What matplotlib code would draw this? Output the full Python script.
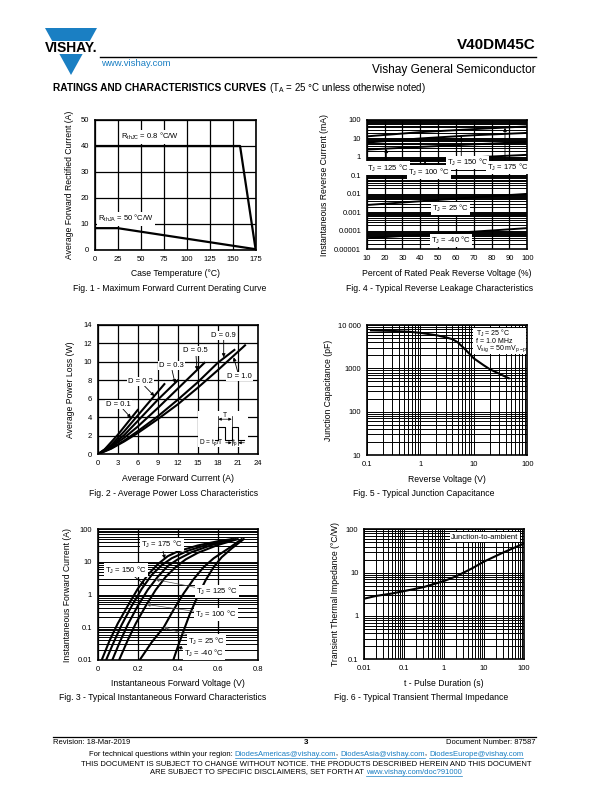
import numpy as np
import matplotlib
matplotlib.use('Agg')
import matplotlib.pyplot as plt
from matplotlib.ticker import LogLocator, NullFormatter, FixedLocator, FixedFormatter
from matplotlib.patches import Polygon, Rectangle

plt.rcParams['font.family'] = ['Liberation Sans', 'DejaVu Sans']
plt.rcParams['mathtext.default'] = 'regular'

# Fig. 1 - derating
temp_jc = [0, 158, 175]
amp_jc = [40, 40, 0]
temp_ja = [0, 25, 175]
amp_ja = [8.4, 8.4, 0.3]

# Fig. 2 - power loss, one curve per duty cycle
duty_names = ['0.1', '0.2', '0.3', '0.5', '0.9', '1.0']
loss_amp = [
    [0, 1, 2, 3, 4, 5, 6],
    [0, 2, 4, 6, 8, 10],
    [0, 2, 4, 6, 9, 12],
    [0, 2, 4, 6, 9, 12, 14, 16],
    [0, 2, 4, 6, 9, 12, 15, 18, 20.5],
    [0, 2, 4, 6, 9, 12, 15, 18, 22.1],
]
loss_watt = [
    [0, 0.5, 1.3, 2.1, 3.0, 3.9, 4.8],
    [0, 1.0, 2.5, 4.2, 5.9, 7.6],
    [0, 0.9, 2.1, 3.6, 5.9, 8.0],
    [0, 0.8, 1.8, 3.0, 5.0, 7.1, 8.5, 9.9],
    [0, 0.65, 1.5, 2.5, 4.1, 5.9, 7.8, 9.9, 11.3],
    [0, 0.6, 1.4, 2.3, 3.8, 5.4, 7.2, 9.1, 11.8],
]

# Fig. 3 - forward characteristics
tj_fwd = ['175', '150', '125', '100', '25', '-40']
vf = [
    [0.02, 0.06, 0.10, 0.15, 0.20, 0.25, 0.30, 0.35, 0.40, 0.50, 0.60, 0.67],
    [0.042, 0.08, 0.12, 0.17, 0.22, 0.27, 0.32, 0.37, 0.45, 0.55, 0.68],
    [0.073, 0.11, 0.15, 0.20, 0.25, 0.30, 0.35, 0.40, 0.47, 0.57, 0.69],
    [0.107, 0.15, 0.19, 0.24, 0.29, 0.34, 0.39, 0.44, 0.50, 0.60, 0.70],
    [0.21, 0.27, 0.33, 0.38, 0.43, 0.48, 0.53, 0.58, 0.65, 0.72],
    [0.378, 0.40, 0.43, 0.46, 0.50, 0.54, 0.58, 0.62, 0.67, 0.73],
]
i_f = [
    [0.01, 0.04, 0.13, 0.45, 1.5, 4, 8.5, 15, 21, 32, 43, 50],
    [0.01, 0.035, 0.12, 0.45, 1.5, 4, 8, 13, 22, 34, 50],
    [0.01, 0.035, 0.12, 0.45, 1.4, 3.5, 7.5, 12, 20, 33, 50],
    [0.01, 0.04, 0.13, 0.45, 1.4, 3.5, 7, 12, 19, 33, 50],
    [0.01, 0.035, 0.1, 0.35, 1.1, 3, 7, 13, 25, 50],
    [0.01, 0.025, 0.08, 0.25, 0.9, 2.8, 7, 14, 26, 50],
]

# Fig. 4 - reverse leakage
pct_vr = [10, 40, 70, 100]
tj_rev = ['175', '150', '125', '100', '25', '-40']
i_r = [
    [13, 22, 32, 45],
    [6, 10, 15, 20],
    [2.5, 3.5, 4.8, 6.5],
    [0.45, 0.65, 0.95, 1.3],
    [0.0025, 0.004, 0.0065, 0.01],
    [0.00004, 0.00006, 0.00009, 0.00014],
]

# Fig. 5 - junction capacitance
v_rev = [0.12, 0.3, 0.6, 1, 2, 3, 4, 5, 7, 10, 15, 20, 30, 45]
cap_pf = [7500, 7300, 7000, 6600, 5800, 5200, 4700, 4000, 2700, 1700, 1200, 950, 750, 590]

# Fig. 6 - transient thermal impedance
t_pulse = [0.01, 0.02, 0.05, 0.1, 0.3, 1, 2, 5, 10, 30, 100]
z_th = [2.5, 2.9, 3.3, 3.75, 4.6, 6.4, 8.2, 12.5, 18, 29, 47]

W, H = 612, 792
fig = plt.figure(figsize=(6.12, 7.92), dpi=100)
TS = 5.5   # tick size
LS = 6.2   # label size
blue = '#1a7fc3'


def box(l, t, r, b):
    ax = fig.add_axes([l / W, 1 - b / H, (r - l) / W, (b - t) / H])
    ax.tick_params(length=0, labelsize=TS, pad=4)
    for s in ax.spines.values():
        s.set_linewidth(1.2)
    return ax


def loggrid(ax, which):
    if 'x' in which:
        ax.xaxis.set_minor_locator(LogLocator(base=10, subs=range(2, 10), numticks=20))
        ax.xaxis.set_minor_formatter(NullFormatter())
    if 'y' in which:
        ax.yaxis.set_minor_locator(LogLocator(base=10, subs=range(2, 10), numticks=20))
        ax.yaxis.set_minor_formatter(NullFormatter())
    ax.tick_params(which='minor', length=0)
    ax.grid(True, which='both', color='k', lw=0.7)


def caption(ax_cx, y, s):
    fig.text(ax_cx / W, 1 - y / H, s, fontsize=LS, ha='center', va='center')


lab = dict(fontsize=TS, ha='center', va='center',
           bbox=dict(fc='w', ec='none', pad=0.8))
arr = dict(arrowstyle='-|>', color='k', lw=0.6, mutation_scale=5, shrinkA=0, shrinkB=0)
small_arr = dict(arrowstyle='-|>', color='k', lw=0.5, mutation_scale=4, shrinkA=0, shrinkB=0)

# ---------- Fig. 1
ax1 = box(94.7, 120, 255.7, 250)
ax1.plot(temp_jc, amp_jc, color='k', lw=1.6)
ax1.plot(temp_ja, amp_ja, color='k', lw=1.6)
ax1.set_xlim(0, 175)
ax1.set_ylim(0, 50)
ax1.set_xticks(range(0, 176, 25))
ax1.set_yticks(range(0, 51, 10))
ax1.grid(True, color='k', lw=0.9)
ax1.text(60.5, 43.5, r'R$_{thJC}$ = 0.8 °C/W', **lab)
ax1.text(33.8, 12, r'R$_{thJA}$ = 50 °C/W', **lab)
ax1.set_xlabel('Case Temperature (°C)', fontsize=LS, labelpad=5)
ax1.set_ylabel('Average Forward Rectified Current (A)', fontsize=LS, labelpad=5)
caption(170, 289, 'Fig. 1 - Maximum Forward Current Derating Curve')

# ---------- Fig. 4
ax4 = box(366.7, 120, 527.3, 249.3)
ax4.set_yscale('log')
for ys in i_r:
    ax4.plot(pct_vr, ys, color='k', lw=1.4)
ax4.set_xlim(10, 100)
ax4.set_ylim(1e-5, 100)
ax4.set_xticks(range(10, 101, 10))
ax4.yaxis.set_major_locator(FixedLocator([1e-5, 1e-4, 1e-3, 1e-2, 0.1, 1, 10, 100]))
ax4.yaxis.set_major_formatter(FixedFormatter(['0.00001', '0.0001', '0.001', '0.01', '0.1', '1', '10', '100']))
loggrid(ax4, 'y')
ax4.grid(True, which='major', axis='x', color='k', lw=0.9)
ax4.annotate('', xy=(21, 2.7), xytext=(21, 0.35), arrowprops=arr)
ax4.annotate('', xy=(42.7, 0.6), xytext=(42.7, 0.2), arrowprops=arr)
ax4.annotate('', xy=(63, 13), xytext=(63, 0.6), arrowprops=arr)
ax4.annotate('', xy=(87.5, 38), xytext=(87.5, 0.35), arrowprops=arr)
ax4.text(22, 0.25, r'T$_J$ = 125 °C', **lab)
ax4.text(45, 0.15, r'T$_J$ = 100 °C', **lab)
ax4.text(66.5, 0.49, r'T$_J$ = 150 °C', **lab)
ax4.text(89, 0.26, r'T$_J$ = 175 °C', **lab)
ax4.text(57, 0.0016, r'T$_J$ = 25 °C', **lab)
ax4.text(57, 0.00003, r'T$_J$ = -40 °C', **lab)
ax4.set_xlabel('Percent of Rated Peak Reverse Voltage (%)', fontsize=LS, labelpad=5)
ax4.set_ylabel('Instantaneous Reverse Current (mA)', fontsize=LS, labelpad=4)
caption(440, 289, 'Fig. 4 - Typical Reverse Leakage Characteristics')

# ---------- Fig. 2
ax2 = box(97.7, 325, 257.7, 454.3)
for xs, ys in zip(loss_amp, loss_watt):
    ax2.plot(xs, ys, color='k', lw=1.5)
ax2.set_xlim(0, 24)
ax2.set_ylim(0, 14)
ax2.set_xticks(range(0, 25, 3))
ax2.set_yticks(range(0, 15, 2))
ax2.grid(True, color='k', lw=0.9)
lab_pos = [(3.15, 5.4), (6.35, 7.9), (11.0, 9.6), (14.7, 11.2), (18.9, 12.9), (21.2, 8.4)]
tip_pos = [(5.0, 3.95), (8.5, 6.3), (11.6, 7.7), (14.9, 9.1), (18.9, 10.5), (20.4, 10.5)]
for name, lp, tp in zip(duty_names, lab_pos, tip_pos):
    ax2.annotate('D = ' + name, xy=tp, xytext=lp, arrowprops=arr, **lab)
# pulse train inset
ax2.add_patch(Rectangle((15.0, 0.8), 7.6, 3.9, fc='w', ec='none', zorder=2))
ax2.plot([17.6, 18.1, 18.1, 19.1, 19.1, 20.1, 20.1, 21.1, 21.1, 22.0],
         [1.6, 1.6, 3.0, 3.0, 1.6, 1.6, 3.0, 3.0, 1.6, 1.6], color='k', lw=0.8, zorder=3)
ax2.plot([18.1, 18.1], [3.0, 4.1], color='k', lw=0.5, zorder=3)
ax2.plot([20.1, 20.1], [3.0, 4.1], color='k', lw=0.5, zorder=3)
ax2.plot([20.1, 20.1], [1.6, 1.0], color='k', lw=0.5, zorder=3)
ax2.plot([21.1, 21.1], [1.6, 1.0], color='k', lw=0.5, zorder=3)
ax2.annotate('', xy=(18.1, 3.8), xytext=(20.1, 3.8),
             arrowprops=dict(small_arr, arrowstyle='<|-|>'), zorder=3)
ax2.text(19.1, 4.25, 'T', fontsize=4.8, ha='center', va='center', zorder=3)
ax2.text(17.0, 1.25, r'D = t$_p$/T', fontsize=4.8, ha='center', va='center', zorder=3)
ax2.annotate('', xy=(20.1, 1.25), xytext=(19.2, 1.25), arrowprops=small_arr, zorder=3)
ax2.annotate('', xy=(21.1, 1.25), xytext=(22.0, 1.25), arrowprops=small_arr, zorder=3)
ax2.text(20.6, 1.25, r't$_p$', fontsize=4.8, ha='center', va='center', zorder=3)
ax2.set_xlabel('Average Forward Current (A)', fontsize=LS, labelpad=5)
ax2.set_ylabel('Average Power Loss (W)', fontsize=LS, labelpad=6)
caption(174, 493, 'Fig. 2 - Average Power Loss Characteristics')

# ---------- Fig. 5
ax5 = box(366.7, 325, 527.3, 455)
ax5.set_xscale('log')
ax5.set_yscale('log')
ax5.plot(v_rev, cap_pf, color='k', lw=1.5)
ax5.set_xlim(0.1, 100)
ax5.set_ylim(10, 10000)
ax5.xaxis.set_major_locator(FixedLocator([0.1, 1, 10, 100]))
ax5.xaxis.set_major_formatter(FixedFormatter(['0.1', '1', '10', '100']))
ax5.yaxis.set_major_locator(FixedLocator([10, 100, 1000, 10000]))
ax5.yaxis.set_major_formatter(FixedFormatter(['10', '100', '1000', '10 000']))
loggrid(ax5, 'xy')
ax5.add_patch(Rectangle((0.665, 0.78), 0.33, 0.195, transform=ax5.transAxes, fc='w', ec='none', zorder=2))
for yy, s in zip([0.935, 0.875, 0.815], [r'T$_J$ = 25 °C', 'f = 1.0 MHz', r'V$_{sig}$ = 50 mV$_{p-p}$']):
    ax5.text(0.68, yy, s, transform=ax5.transAxes, fontsize=5.0, ha='left', va='center', zorder=3)
ax5.set_xlabel('Reverse Voltage (V)', fontsize=LS, labelpad=5)
ax5.set_ylabel('Junction Capacitance (pF)', fontsize=LS, labelpad=4)
caption(424, 493, 'Fig. 5 - Typical Junction Capacitance')

# ---------- Fig. 3
ax3 = box(97.7, 529.3, 257.7, 660)
ax3.set_yscale('log')
for xs, ys in zip(vf, i_f):
    ax3.plot(xs, ys, color='k', lw=1.5)
ax3.set_xlim(0, 0.8)
ax3.set_ylim(0.01, 100)
ax3.set_xticks([0, 0.2, 0.4, 0.6, 0.8])
ax3.set_xticklabels(['0', '0.2', '0.4', '0.6', '0.8'])
ax3.yaxis.set_major_locator(FixedLocator([0.01, 0.1, 1, 10, 100]))
ax3.yaxis.set_major_formatter(FixedFormatter(['0.01', '0.1', '1', '10', '100']))
loggrid(ax3, 'y')
ax3.grid(True, which='major', axis='x', color='k', lw=0.9)
thin = dict(arrowstyle='-|>', color='#555555', lw=0.5, mutation_scale=5, shrinkA=0, shrinkB=0)
f3_lab = [(0.32, 34.7), (0.14, 5.7), (0.595, 1.24), (0.59, 0.25), (0.545, 0.038), (0.53, 0.016)]
f3_tip = [(0.335, 12.5), (0.237, 2.0), (0.29, 2.9), (0.245, 0.5), (0.33, 0.1), (0.40, 0.025)]
for name, lp, tp in zip(tj_fwd, f3_lab, f3_tip):
    ax3.annotate(r'T$_J$ = ' + name + ' °C', xy=tp, xytext=lp,
                 arrowprops=arr if name in ('175', '150', '-40') else thin, **lab)
ax3.set_xlabel('Instantaneous Forward Voltage (V)', fontsize=LS, labelpad=5)
ax3.set_ylabel('Instantaneous Forward Current (A)', fontsize=LS, labelpad=4)
caption(163, 697, 'Fig. 3 - Typical Instantaneous Forward Characteristics')

# ---------- Fig. 6
ax6 = box(364, 529.3, 524, 659.3)
ax6.set_xscale('log')
ax6.set_yscale('log')
ax6.plot(t_pulse, z_th, color='k', lw=1.5)
ax6.set_xlim(0.01, 100)
ax6.set_ylim(0.1, 100)
ax6.xaxis.set_major_locator(FixedLocator([0.01, 0.1, 1, 10, 100]))
ax6.xaxis.set_major_formatter(FixedFormatter(['0.01', '0.1', '1', '10', '100']))
ax6.yaxis.set_major_locator(FixedLocator([0.1, 1, 10, 100]))
ax6.yaxis.set_major_formatter(FixedFormatter(['0.1', '1', '10', '100']))
loggrid(ax6, 'xy')
ax6.text(0.755, 0.94, 'Junction-to-ambient', transform=ax6.transAxes, **lab)
ax6.set_xlabel('t - Pulse Duration (s)', fontsize=LS, labelpad=5)
ax6.set_ylabel('Transient Thermal Impedance (°C/W)', fontsize=LS, labelpad=4)
caption(421, 697, 'Fig. 6 - Typical Transient Thermal Impedance')

# ---------- page header / footer
ov = fig.add_axes([0, 0, 1, 1])
ov.set_xlim(0, W)
ov.set_ylim(H, 0)
ov.axis('off')

ov.add_patch(Polygon([(45, 28), (97, 28), (71, 75)], closed=True, fc=blue, ec='none'))
ov.add_patch(Rectangle((43, 41), 56, 13, fc='w', ec='none'))
ov.text(71, 48, 'VISHAY.', fontsize=10, fontweight='bold', ha='center', va='center')
ov.plot([100, 536], [57, 57], color='k', lw=1.0)
ov.text(536, 45, 'V40DM45C', fontsize=11, fontweight='bold', ha='right', va='center')
ov.text(101, 64, 'www.vishay.com', fontsize=6.8, color=blue, ha='left', va='center')
ov.text(536, 70, 'Vishay General Semiconductor', fontsize=8.6, ha='right', va='center')
t = ov.text(53, 88, 'RATINGS AND CHARACTERISTICS CURVES', fontsize=7.3, fontweight='bold', ha='left', va='center')
r = fig.canvas.get_renderer()
x_end = 53 + t.get_window_extent(r).width
ov.text(x_end + 3, 88, r'(T$_A$ = 25 °C unless otherwise noted)', fontsize=7.0, ha='left', va='center')

ov.plot([53, 536], [737, 737], color='k', lw=0.9)
ov.text(53, 743, 'Revision: 18-Mar-2019', fontsize=5.5, ha='left', va='center')
ov.text(306, 743, '3', fontsize=5.8, fontweight='bold', ha='center', va='center')
ov.text(536, 743, 'Document Number: 87587', fontsize=5.5, ha='right', va='center')


def run_line(y, parts, size, center=306):
    items = []
    total = 0
    for s, c in parts:
        tx = ov.text(0, y, s, fontsize=size, color=c, ha='left', va='center')
        w = tx.get_window_extent(r).width
        items.append((tx, w, c))
        total += w
    x = center - total / 2
    for tx, w, c in items:
        tx.set_x(x)
        if c != 'k':
            ov.plot([x, x + w], [y + 3.6, y + 3.6], color=c, lw=0.5)
        x += w


run_line(754, [('For technical questions within your region: ', 'k'), ('DiodesAmericas@vishay.com', blue),
               (', ', 'k'), ('DiodesAsia@vishay.com', blue), (', ', 'k'), ('DiodesEurope@vishay.com', blue)], 5.5)
run_line(764, [('THIS DOCUMENT IS SUBJECT TO CHANGE WITHOUT NOTICE. THE PRODUCTS DESCRIBED HEREIN AND THIS DOCUMENT', 'k')], 5.5)
run_line(772, [('ARE SUBJECT TO SPECIFIC DISCLAIMERS, SET FORTH AT ', 'k'), ('www.vishay.com/doc?91000', blue)], 5.5)

fig.savefig('out.png', dpi=100)
